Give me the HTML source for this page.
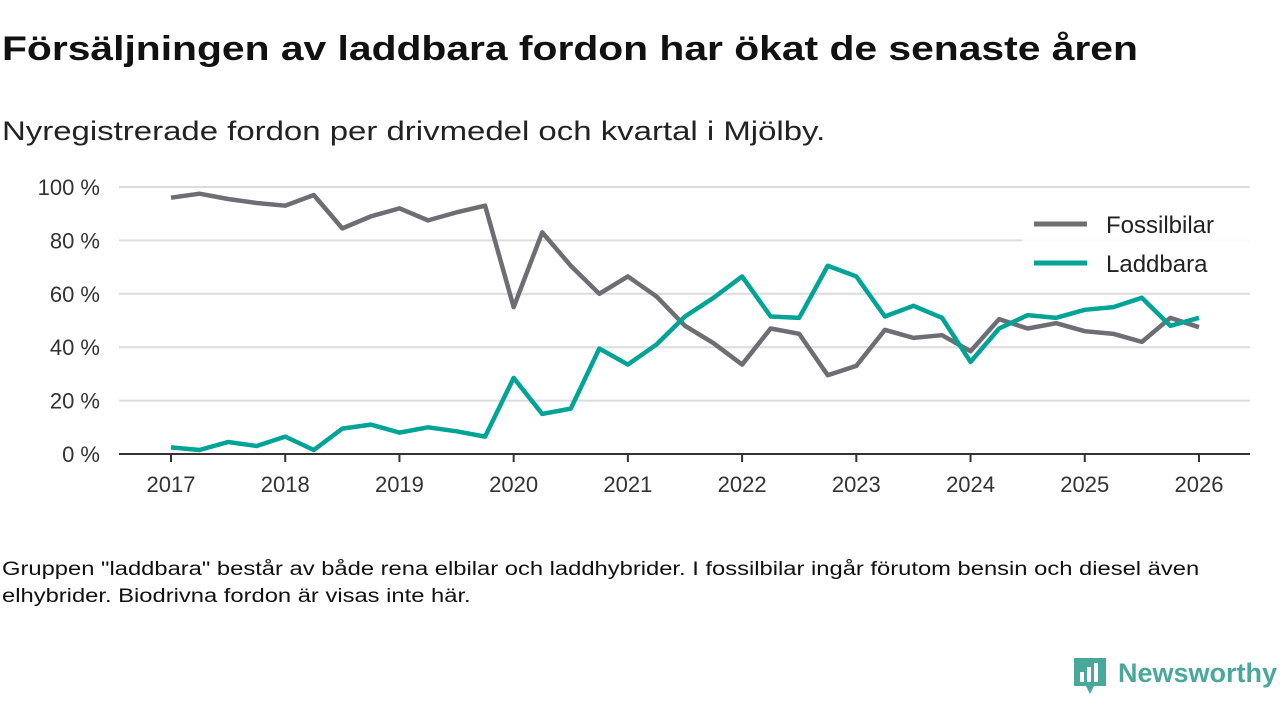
<!DOCTYPE html>
<html><head><meta charset="utf-8"><style>
body{margin:0;width:1280px;height:720px;background:#fff;font-family:"Liberation Sans","DejaVu Sans",sans-serif;overflow:hidden;position:relative;color:#111}
.t{position:absolute;left:2px;top:30px;font-size:34px;font-weight:bold;white-space:nowrap;transform:scaleX(1.2);transform-origin:0 0}
.s{position:absolute;left:2px;top:116px;font-size:27px;color:#222;white-space:nowrap;transform:scaleX(1.22);transform-origin:0 0}
.f{position:absolute;left:2px;top:556px;font-size:19px;line-height:27px;width:965px;color:#111;transform:scaleX(1.25);transform-origin:0 0}
svg{position:absolute;left:0;top:0}
</style></head><body>
<div class="t">Försäljningen av laddbara fordon har ökat de senaste åren</div>
<div class="s">Nyregistrerade fordon per drivmedel och kvartal i Mjölby.</div>
<svg id="c" width="1280" height="720"></svg>
<div class="f">Gruppen "laddbara" består av både rena elbilar och laddhybrider. I fossilbilar ingår förutom bensin och diesel även elhybrider. Biodrivna fordon är visas inte här.</div>
<div style="position:absolute;left:1072px;top:656px;height:40px;">
<svg width="36" height="40" style="position:static"><path d="M2 2h32v28H22l-4 8-4-8H2z" fill="#4aa89b"/><rect x="8" y="16" width="4" height="10" fill="#fff"/><rect x="15" y="11" width="4" height="15" fill="#fff"/><rect x="22" y="7" width="4" height="19" fill="#fff"/></svg>
<span style="position:absolute;left:46px;top:2px;font-size:27px;font-weight:bold;color:#4aa89b;white-space:nowrap">Newsworthy</span></div>
<script>
const years=[2017,2018,2019,2020,2021,2022,2023,2024,2025,2026];
const yTicks=[0,20,40,60,80,100];
const fossil=[96,97.5,95.5,94,93,97,84.5,89,92,87.5,90.5,93,55,83,70.5,60,66.5,59,48,41.5,33.5,47,45,29.5,33,46.5,43.5,44.5,38.5,50.5,47,49,46,45,42,51,47.5];
const laddbara=[2.5,1.5,4.5,3,6.5,1.5,9.5,11,8,10,8.5,6.5,28.5,15,17,39.5,33.5,41,51.5,58.5,66.5,51.5,51,70.5,66.5,51.5,55.5,51,34.5,47,52,51,54,55,58.5,48,51];
const NS='http://www.w3.org/2000/svg',svg=document.getElementById('c');
const X=t=>171+(t-2017)*114.22, Y=v=>454-v*2.67;
function el(n,a){const e=document.createElementNS(NS,n);for(const k in a)e.setAttribute(k,a[k]);svg.appendChild(e);return e;}
yTicks.forEach(v=>{
 if(v>0){const g=el('line',{x1:119,x2:1250,y1:Y(v),y2:Y(v),stroke:'#dcdcdc','stroke-width':2});
 
 }
 const t=el('text',{x:100,y:Y(v)+8,'text-anchor':'end','font-size':22,fill:'#333'});t.textContent=v+' %';
 
 
});
const ax=el('line',{x1:119,x2:1250,y1:454,y2:454,stroke:'#333','stroke-width':2});


years.forEach(y=>{
 el('line',{x1:X(y),x2:X(y),y1:454,y2:462,stroke:'#333','stroke-width':2});
 const t=el('text',{x:X(y),y:492,'text-anchor':'middle','font-size':22,fill:'#333'});t.textContent=y;
 
 
});
function line(d,c,name){const p=el('polyline',{points:d.map((v,i)=>X(2017+i/4)+','+Y(v)).join(' '),fill:'none',stroke:c,'stroke-width':4.5,'stroke-linejoin':'round'});
 
 }
line(fossil,'#6e6d73','series-fossilbilar');
line(laddbara,'#00a497','series-laddbara');
el('rect',{x:1022,y:205,width:228,height:82,fill:'#fff',opacity:0.85});
[['Fossilbilar','#6e6d73',224],['Laddbara','#00a497',263]].forEach(([n,c,y])=>{
 el('line',{x1:1034,x2:1087,y1:y,y2:y,stroke:c,'stroke-width':5});
 const t=el('text',{x:1106,y:y+9,'font-size':24,fill:'#222'});t.textContent=n;
 
 
});
</script>
</body></html>
